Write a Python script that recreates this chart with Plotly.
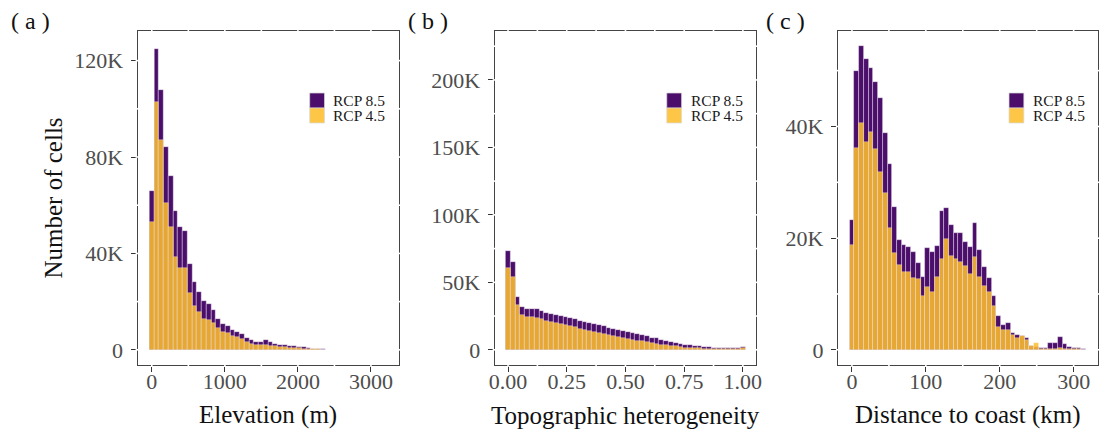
import numpy as np
import plotly.graph_objects as go

W, H = 1108, 441

# ---- data: number of cells (thousands) per bin, two scenarios ----
# (a) elevation, 50 bins of 65 m starting at 0
elev_bin = 65
elev_rcp85 = [66, 125, 108, 84, 72, 57.4, 50.9, 49.5, 35.7, 28.1,
              24.2, 20.3, 19.1, 16.6, 12.7, 10.8, 10.0, 8.3, 7.2, 6.6,
              4.8, 4.1, 3.2, 3.2, 4.1, 3.2, 2.6, 2.1, 1.8, 1.7,
              1.5, 1.3, 1.0, 0.7, 0.45, 0.3, 0.15, 0.1, 0.08, 0.06,
              0.05, 0.04, 0.03, 0.03, 0.02, 0.02, 0.01, 0.01, 0.01, 0.01]
elev_rcp45 = [53, 103, 87, 61, 51, 38.7, 33.9, 34.0, 23.5, 18.0,
              15.5, 12.7, 12.4, 11.0, 9.0, 7.6, 6.9, 5.8, 5.3, 4.6,
              3.2, 2.5, 2.1, 1.8, 2.1, 1.7, 1.4, 1.2, 1.0, 0.9,
              0.8, 0.6, 0.45, 0.35, 0.25, 0.18, 0.12, 0.08, 0.06, 0.04,
              0.03, 0.02, 0.02, 0.01, 0.01, 0.01, 0.01, 0, 0, 0]

# (b) topographic heterogeneity, 50 bins over [0, 1]
topo_bin = 1 / 49
topo_rcp85 = [73.6, 65.0, 39.5, 31.6, 30.6, 30.4, 30.1, 28.6, 27.2, 26.2,
              26.0, 25.2, 24.5, 23.5, 22.7, 21.7, 20.7, 19.8, 19.0, 18.3,
              17.3, 16.5, 15.8, 14.8, 14.1, 13.1, 12.3, 11.6, 10.9, 9.9,
              9.1, 8.4, 7.4, 6.7, 5.9, 5.2, 4.4, 3.9, 3.5, 3.0,
              2.5, 2.2, 2.0, 1.7, 1.5, 1.5, 1.2, 1.5, 1.7, 2.0]
topo_rcp45 = [60.5, 53.8, 33.3, 25.9, 24.2, 24.0, 23.7, 22.7, 21.5, 20.5,
              19.8, 19.0, 18.5, 17.5, 16.8, 15.8, 14.8, 14.1, 13.3, 12.6,
              11.9, 11.1, 10.4, 9.6, 9.1, 8.1, 7.4, 6.9, 6.2, 5.7,
              4.9, 4.4, 3.9, 3.5, 3.0, 2.5, 2.2, 1.7, 1.5, 1.2,
              1.0, 0.7, 0.7, 0.5, 0.5, 0.5, 0.5, 0.7, 0.7, 1.0]

# (c) distance to coast, 50 bins of 6.4 km
coast_bin = 6.4
coast_rcp85 = [23.3, 49.9, 54.4, 52.1, 50.5, 47.9, 45.1, 38.9, 33.3, 25.6,
               19.6, 18.8, 18.5, 17.6, 15.5, 13.1, 18.2, 17.6, 18.6, 24.8,
               25.4, 22.4, 21.0, 21.0, 19.3, 18.4, 22.7, 17.9, 14.8, 12.8,
               9.6, 6.1, 4.5, 4.8, 3.1, 2.6, 2.4, 2.1, 0.6, 0.5,
               0.3, 0.3, 1.2, 1.2, 2.3, 1.0, 0.5, 0.4, 0.3, 0.2]
coast_rcp45 = [18.8, 36.1, 40.7, 37.3, 39.1, 36.0, 31.8, 28.1, 21.8, 17.4,
               15.2, 14.0, 13.9, 12.8, 12.7, 9.6, 11.3, 10.4, 13.1, 16.3,
               19.8, 16.8, 16.3, 15.8, 15.0, 13.6, 16.7, 13.1, 11.5, 10.4,
               7.9, 4.1, 3.6, 3.6, 2.7, 2.1, 2.4, 1.7, 0.6, 1.3,
               0.2, 0.1, 0.2, 0.2, 0.3, 0.2, 0.1, 0.1, 0.1, 0.05]

PURPLE = "#4B0F6B"
ORANGE = "#FDBE2C"
ORANGE_ALPHA = 0.87
SERIF = "Liberation Serif"

# pixel layout of the three panels (left, right); shared top/bottom
panels = [
    dict(xl=133, xr=397, bw=elev_bin, y85=elev_rcp85, y45=elev_rcp45,
         xrange=[-195, 3380], yrange=[-6.3, 132.3],
         xt=[0, 1000, 2000, 3000], xtt=["0", "1000", "2000", "3000"],
         xminor=[500, 1500, 2500],
         yt=[0, 40, 80, 120], ytt=["0", "40K", "80K", "120K"], yminor=[20, 60, 100],
         title="Elevation (m)", label="( a )", lx=3),
    dict(xl=494, xr=758, bw=topo_bin, y85=topo_rcp85, y45=topo_rcp45,
         xrange=[-0.057, 1.055], yrange=[-11.25, 236.25],
         xt=[0, 0.25, 0.5, 0.75, 1.0], xtt=["0.00", "0.25", "0.50", "0.75", "1.00"],
         xminor=[0.125, 0.375, 0.625, 0.875],
         yt=[0, 50, 100, 150, 200], ytt=["0", "50K", "100K", "150K", "200K"],
         yminor=[25, 75, 125, 175, 225],
         title="Topographic heterogeneity", label="( b )", lx=404),
    dict(xl=841, xr=1104, bw=coast_bin, y85=coast_rcp85, y45=coast_rcp45,
         xrange=[-19, 333], yrange=[-2.72, 57.1],
         xt=[0, 100, 200, 300], xtt=["0", "100", "200", "300"], xminor=[50, 150, 250],
         yt=[0, 20, 40], ytt=["0", "20K", "40K"], yminor=[10, 30, 50],
         title="Distance to coast (km)", label="( c )", lx=766),
]

TOP, BOTTOM = 31, 365
ydom = [1 - BOTTOM / H, 1 - TOP / H]

fig = go.Figure()
shapes, annotations = [], []

for i, p in enumerate(panels):
    n = "" if i == 0 else str(i + 1)
    xa, ya = "x" + n, "y" + n
    centers = np.arange(len(p["y85"])) * p["bw"]
    bar_line = dict(color="rgba(255,255,255,0.6)", width=0.6)
    fig.add_trace(go.Bar(x=centers, y=p["y85"], width=p["bw"], name="RCP 8.5",
                         marker=dict(color=PURPLE, line=bar_line),
                         xaxis=xa, yaxis=ya, showlegend=False))
    fig.add_trace(go.Bar(x=centers, y=p["y45"], width=p["bw"], name="RCP 4.5",
                         marker=dict(color=ORANGE, line=bar_line), opacity=ORANGE_ALPHA,
                         xaxis=xa, yaxis=ya, showlegend=False))

    common = dict(showline=True, mirror=True, linecolor="#444", linewidth=1.1,
                  ticks="outside", ticklen=6, tickwidth=1, tickcolor="#333",
                  showgrid=False, zeroline=False,
                  tickfont=dict(family=SERIF, size=22, color="#4d4d4d"))
    fig.update_layout(**{
        "xaxis" + n: dict(common, domain=[p["xl"] / W, p["xr"] / W], range=p["xrange"],
                          tickvals=p["xt"], ticktext=p["xtt"], anchor=ya,
                          ticklabelstandoff=-9),
        "yaxis" + n: dict(common, domain=ydom, range=p["yrange"],
                          tickvals=p["yt"], ticktext=p["ytt"], anchor=xa,
                          ticklabelstandoff=3),
    })

    # white grid lines cut small gaps into the panel border
    gy = 2.0 / (BOTTOM - TOP)
    gx = 2.0 / (p["xr"] - p["xl"])
    for v in p["xt"] + p["xminor"]:
        for y0, y1 in [(-gy, gy), (1 - gy, 1 + gy)]:
            shapes.append(dict(type="line", xref=xa, yref=ya + " domain",
                               x0=v, x1=v, y0=y0, y1=y1,
                               line=dict(color="white", width=1.6), layer="above"))
    for v in p["yt"] + p["yminor"]:
        for x0, x1 in [(-gx, gx), (1 - gx, 1 + gx)]:
            shapes.append(dict(type="line", xref=xa + " domain", yref=ya,
                               x0=x0, x1=x1, y0=v, y1=v,
                               line=dict(color="white", width=1.6), layer="above"))

    # legend keys and labels
    kx = p["xr"] - 90
    for (col, op, label, ky) in [(PURPLE, 1.0, "RCP 8.5", 93), (ORANGE, ORANGE_ALPHA, "RCP 4.5", 108)]:
        shapes.append(dict(type="rect", xref="paper", yref="paper",
                           x0=kx / W, x1=(kx + 15) / W, y0=1 - (ky + 15) / H, y1=1 - ky / H,
                           fillcolor=col, opacity=op,
                           line=dict(color="rgba(215,215,215,0.9)", width=0.8), layer="above"))
        annotations.append(dict(text=label, xref="paper", yref="paper",
                                x=(kx + 22) / W, y=1 - (ky + 7.5) / H,
                                xanchor="left", yanchor="middle", showarrow=False,
                                font=dict(family=SERIF, size=15.5, color="#1a1a1a")))

    # axis title and panel tag
    annotations.append(dict(text=p["title"], xref="paper", yref="paper",
                            x=(p["xl"] + p["xr"]) / 2 / W, y=1 - 415 / H,
                            xanchor="center", yanchor="middle", showarrow=False,
                            font=dict(family=SERIF, size=25, color="#111")))
    annotations.append(dict(text=p["label"], xref="paper", yref="paper",
                            x=p["lx"] / W, y=1 - 21 / H,
                            xanchor="left", yanchor="middle", showarrow=False,
                            font=dict(family=SERIF, size=24, color="#111")))

annotations.append(dict(text="Number of cells", xref="paper", yref="paper",
                        x=48 / W, y=(ydom[0] + ydom[1]) / 2, textangle=-90,
                        xanchor="center", yanchor="middle", showarrow=False,
                        font=dict(family=SERIF, size=25, color="#111")))

fig.update_layout(width=W, height=H, margin=dict(l=0, r=0, t=0, b=0),
                  paper_bgcolor="white", plot_bgcolor="white",
                  barmode="overlay", bargap=0,
                  shapes=shapes, annotations=annotations)

fig.write_html("out.html")
